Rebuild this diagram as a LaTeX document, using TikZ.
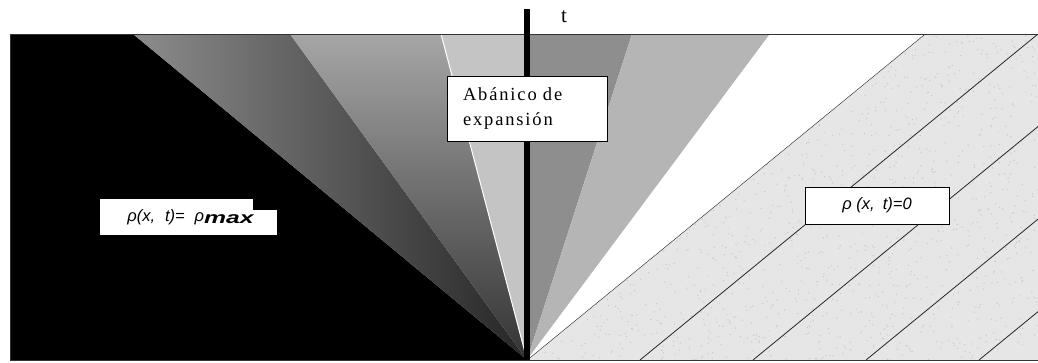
\documentclass[tikz,border=0pt]{standalone}
\usepackage{fontspec}
\setmainfont{Liberation Serif}
\newfontfamily\labelfont{Liberation Sans}
\newfontfamily\fanfont[LetterSpace=10]{Liberation Serif}
\usetikzlibrary{calc}
\definecolor{fanLight}{RGB}{196,196,196}
\definecolor{fanMid}{RGB}{142,142,142}
\definecolor{fanPale}{RGB}{181,181,181}
\definecolor{stipple}{RGB}{230,230,230}
\definecolor{speck}{RGB}{200,200,200}
\tikzset{
  labelbox/.style={draw=black, line width=0.8pt, fill=white, inner sep=0pt},
  hatchline/.style={black!85, line width=0.8pt}
}

\begin{document}
\begin{tikzpicture}[x=1pt,y=-1pt]
    \useasboundingbox (0,0) rectangle (1038,362);
    \coordinate (apex) at (527,360);
    \coordinate (ttop) at (527,9);

    % Left state
    \fill[black] (10,34) -- (133,34) -- (apex) -- (10,360) -- cycle;

    % Expansion fan, left of the axis
    \shade[left color=black!45, right color=black!85] (133,34) -- (290,34) -- (apex) -- cycle;
    \shade[top color=black!35, bottom color=black!80] (290,34) -- (441,34) -- (apex) -- cycle;
    \fill[fanLight] (441,34) -- (527,34) -- (apex) -- cycle;
    \draw[white, line width=1pt] (441,34) -- (apex);

    % Expansion fan, right of the axis
    \fill[fanMid] (527,34) -- (632,34) -- (apex) -- cycle;
    \fill[fanPale] (632,34) -- (770,34) -- (apex) -- cycle;
    \fill[white] (770,34) -- (925,34) -- (apex) -- cycle;

    % Right state (empty road)
    \begin{scope}
        \clip (925,34) -- (1040,34) -- (1040,360) -- (apex) -- cycle;
        \fill[stipple] (500,30) rectangle (1040,362);
        \pgfmathsetseed{7}
        \foreach \i in {1,...,1800}
            \fill[speck] ({520+rnd*520},{30+rnd*332}) circle (0.7pt);
        \foreach \k in {0,...,4}
            \draw[hatchline] ($(apex)+(\k*113,0)$) -- ++(597,-489);
    \end{scope}

    % Frame
    \draw[black!80, line width=0.8pt] (10,34) rectangle (1040,360);

    % Time axis
    \draw[black, line width=6pt] (ttop) -- (apex);
    \node[font=\fontsize{21}{24}\selectfont] (tlabel) at (564,17) {t};

    % Labels
    \node[labelbox, minimum width=160pt, minimum height=65pt, align=left,
          text width=128pt, inner xsep=16pt,
          font=\fanfont\fontsize{18.5}{25}\selectfont] (fan) at (527,108.5)
        {Abánico de\\expansión};
    \node[fill=white, inner sep=0pt, minimum width=177pt, minimum height=36pt,
          font=\labelfont\itshape\fontsize{16.5}{18}\selectfont] (rhomax) at (188.5,217)
        {\hspace{4pt}ρ(x,\hspace{0.6em}t)=\hspace{0.6em}ρ\raisebox{-2pt}{\scalebox{1.5}[1]{\bfseries max}}};
    \fill[black] (253,198) rectangle (278,210);
    \node[labelbox, minimum width=144pt, minimum height=37pt,
          font=\labelfont\itshape\fontsize{16.5}{18}\selectfont] (rhozero) at (877,205.5)
        {ρ (x,\hspace{0.5em}t)=0};

\end{tikzpicture}
\end{document}
